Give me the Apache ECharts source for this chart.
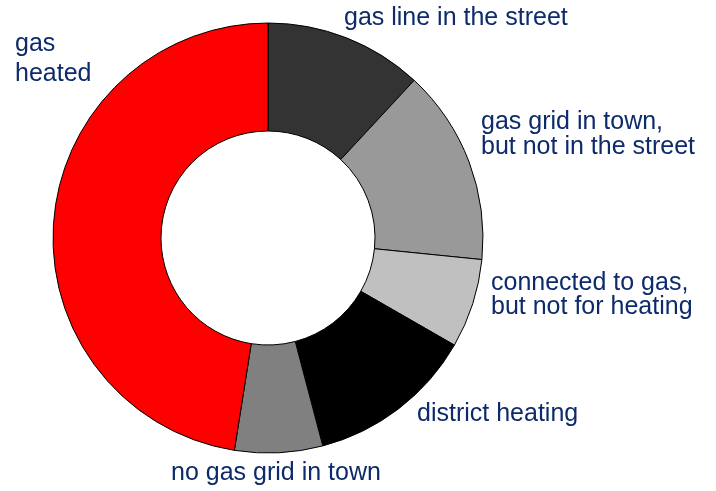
<!DOCTYPE html>
<html>
<head>
<meta charset="utf-8">
<script src="https://cdn.jsdelivr.net/npm/echarts@6/dist/echarts.min.js"></script>
<style>
  html, body { margin: 0; padding: 0; background: #fff; }
  #chart { width: 716px; height: 491px; }
</style>
</head>
<body>
<div id="chart"></div>
<script>
// slices, clockwise from 12 o'clock
const categories = [
  'gas line in the street',
  'gas grid in town,\nbut not in the street',
  'connected to gas,\nbut not for heating',
  'district heating',
  'no gas grid in town',
  'gas\nheated'
]
const shares = [11.9, 14.7, 6.7, 12.6, 6.6, 47.5]

const colors = ['#333333', '#999999', '#c0c0c0', '#000000', '#808080', '#ff0000']
// label top-left corners and line heights
const labelPos = [[344, 6], [481, 110], [491, 271], [417, 402], [171, 461], [15, 29]]
const labelLineHeights = [24, 25, 24, 24, 24, 30]

const chart = echarts.init(document.getElementById('chart'))

chart.setOption({
  animation: false,
  series: [
    {
      type: 'pie',
      center: [268, 238],
      radius: [107, 215],
      startAngle: 90,
      clockwise: true,
      avoidLabelOverlap: false,
      itemStyle: { borderColor: '#000', borderWidth: 1 },
      label: {
        show: true,
        formatter: '{b}',
        color: '#0d2b6b',
        fontFamily: '"Liberation Sans", Arial, sans-serif',
        fontSize: 25
      },
      labelLine: { show: false },
      labelLayout: function (params) {
        const p = labelPos[params.dataIndex]
        return { x: p[0], y: p[1], align: 'left', verticalAlign: 'top' }
      },
      emphasis: { disabled: true },
      data: categories.map((name, i) => ({
        name: name,
        value: shares[i],
        itemStyle: { color: colors[i] },
        label: { lineHeight: labelLineHeights[i] }
      }))
    }
  ]
})
</script>
</body>
</html>
